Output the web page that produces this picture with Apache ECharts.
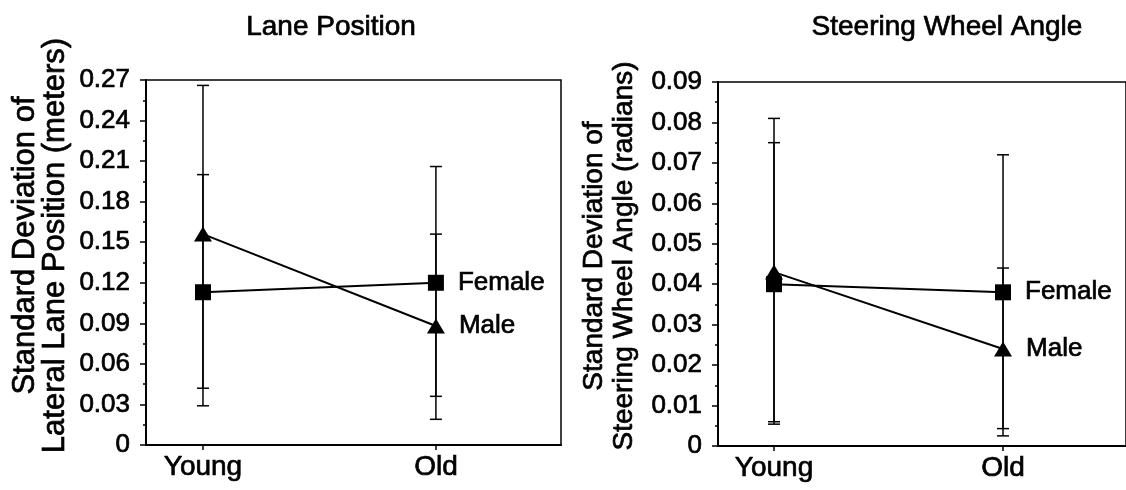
<!DOCTYPE html>
<html>
<head>
<meta charset="utf-8">
<script src="https://cdn.jsdelivr.net/npm/echarts@6/dist/echarts.min.js"></script>
<style>
  html, body { margin: 0; padding: 0; background: #fff; }
  #main { width: 1126px; height: 490px; }
</style>
</head>
<body>
<div id="main"></div>
<script>
var groups = ['Young', 'Old'];

// Lane position (meters)
var laneFemale = [0.113, 0.120];
var laneMale = [0.156, 0.088];
var laneFemaleLow = [0.029, 0.036];
var laneFemaleHigh = [0.200, 0.206];
var laneMaleLow = [0.042, 0.019];
var laneMaleHigh = [0.266, 0.156];

// Steering wheel angle (radians)
var wheelFemale = [0.040, 0.038];
var wheelMale = [0.043, 0.024];
var wheelFemaleLow = [0.006, 0.0043];
var wheelFemaleHigh = [0.075, 0.072];
var wheelMaleLow = [0.0054, 0.0025];
var wheelMaleHigh = [0.081, 0.044];

var font = "'Liberation Sans', Arial, Helvetica, sans-serif";
var ink = { color: '#000', fontFamily: font, textBorderColor: '#000', textBorderWidth: 0.7 };

function txt(size, extra) {
    return Object.assign({}, ink, { fontSize: size }, extra || {});
}

function pts(vals, name) {
    return vals.map(function (v, i) {
        if (i === vals.length - 1) {
            return { value: [i, v], label: { show: true, formatter: name } };
        }
        return [i, v];
    });
}

function errs(low, high) {
    return low.map(function (l, i) { return [i, l, high[i]]; });
}

function errRender(params, api) {
    var x = api.value(0);
    var lo = api.coord([x, api.value(1)]);
    var hi = api.coord([x, api.value(2)]);
    var w = 6;
    var st = { stroke: '#000', lineWidth: 1.5 };
    return {
        type: 'group',
        children: [
            { type: 'line', shape: { x1: lo[0], y1: lo[1], x2: hi[0], y2: hi[1] }, style: st },
            { type: 'line', shape: { x1: lo[0] - w, y1: lo[1], x2: lo[0] + w, y2: lo[1] }, style: st },
            { type: 'line', shape: { x1: hi[0] - w, y1: hi[1], x2: hi[0] + w, y2: hi[1] }, style: st }
        ]
    };
}

function xAxisFor(idx) {
    return {
        type: 'value',
        gridIndex: idx,
        min: -0.2446,
        max: 1.537,
        splitLine: { show: false },
        axisLine: { onZero: false, lineStyle: { color: '#000', width: 2 } },
        axisTick: { customValues: [0, 1], length: 5, lineStyle: { color: '#000', width: 1.5 } },
        axisLabel: txt(28, {
            customValues: [0, 1],
            formatter: function (v) { return groups[Math.round(v)]; },
            margin: 8
        })
    };
}

function yAxisFor(idx, max, step, name, nameSize, gap, shift) {
    return {
        type: 'value',
        gridIndex: idx,
        min: 0,
        max: max,
        interval: step,
        name: name,
        nameLocation: 'middle',
        nameGap: gap,
        nameTextStyle: txt(nameSize, { lineHeight: 30, padding: [0, 0, 0, shift] }),
        splitLine: { show: false },
        axisLine: { show: true, onZero: false, lineStyle: { color: '#000', width: 2 } },
        axisTick: { length: 6, lineStyle: { color: '#000', width: 1.5 } },
        minorTick: { show: true, splitNumber: 2, length: 3, lineStyle: { color: '#000', width: 1.5 } },
        axisLabel: txt(26, {
            margin: 16,
            formatter: function (v) { return v === 0 ? '0' : v.toFixed(2); }
        })
    };
}

function lineSeries(name, data, symbol, size, xi) {
    return {
        name: name,
        type: 'line',
        xAxisIndex: xi,
        yAxisIndex: xi,
        data: data,
        symbol: symbol,
        symbolSize: size,
        z: 5,
        color: '#000',
        lineStyle: { color: '#000', width: 2 },
        itemStyle: { color: '#000' },
        label: txt(26, { position: 'right', distance: 14 }),
        animation: false
    };
}

function errSeries(data, xi) {
    return {
        type: 'custom',
        xAxisIndex: xi,
        yAxisIndex: xi,
        data: data,
        renderItem: errRender,
        z: 2,
        animation: false
    };
}

option = {
    backgroundColor: '#fff',
    animation: false,
    title: [
        { text: 'Lane Position', left: 326, top: 8, textAlign: 'center',
          textStyle: txt(28, { fontWeight: 'normal' }) },
        { text: 'Steering Wheel Angle', left: 942, top: 8, textAlign: 'center',
          textStyle: txt(28, { fontWeight: 'normal' }) }
    ],
    grid: [
        { left: 146, right: 565, top: 80, bottom: 45, show: true, borderColor: '#000', borderWidth: 1.5 },
        { left: 718, right: -6, top: 82, bottom: 44, show: true, borderColor: '#000', borderWidth: 1.5 }
    ],
    xAxis: [xAxisFor(0), xAxisFor(1)],
    yAxis: [
        yAxisFor(0, 0.27, 0.03, 'Standard Deviation of\nLateral Lane Position (meters)', 31, 76, 34),
        yAxisFor(1, 0.09, 0.01, 'Standard Deviation of\nSteering Wheel Angle (radians)', 28, 79, 16)
    ],
    series: [
        errSeries(errs(laneFemaleLow, laneFemaleHigh), 0),
        errSeries(errs(laneMaleLow, laneMaleHigh), 0),
        lineSeries('Female', pts(laneFemale, 'Female'), 'rect', 16, 0),
        lineSeries('Male', pts(laneMale, 'Male'), 'triangle', [18, 15], 0),
        errSeries(errs(wheelFemaleLow, wheelFemaleHigh), 1),
        errSeries(errs(wheelMaleLow, wheelMaleHigh), 1),
        lineSeries('Female', pts(wheelFemale, 'Female'), 'rect', 16, 1),
        lineSeries('Male', pts(wheelMale, 'Male'), 'triangle', [18, 15], 1)
    ]
};

echarts.init(document.getElementById('main')).setOption(option);
</script>
</body>
</html>
